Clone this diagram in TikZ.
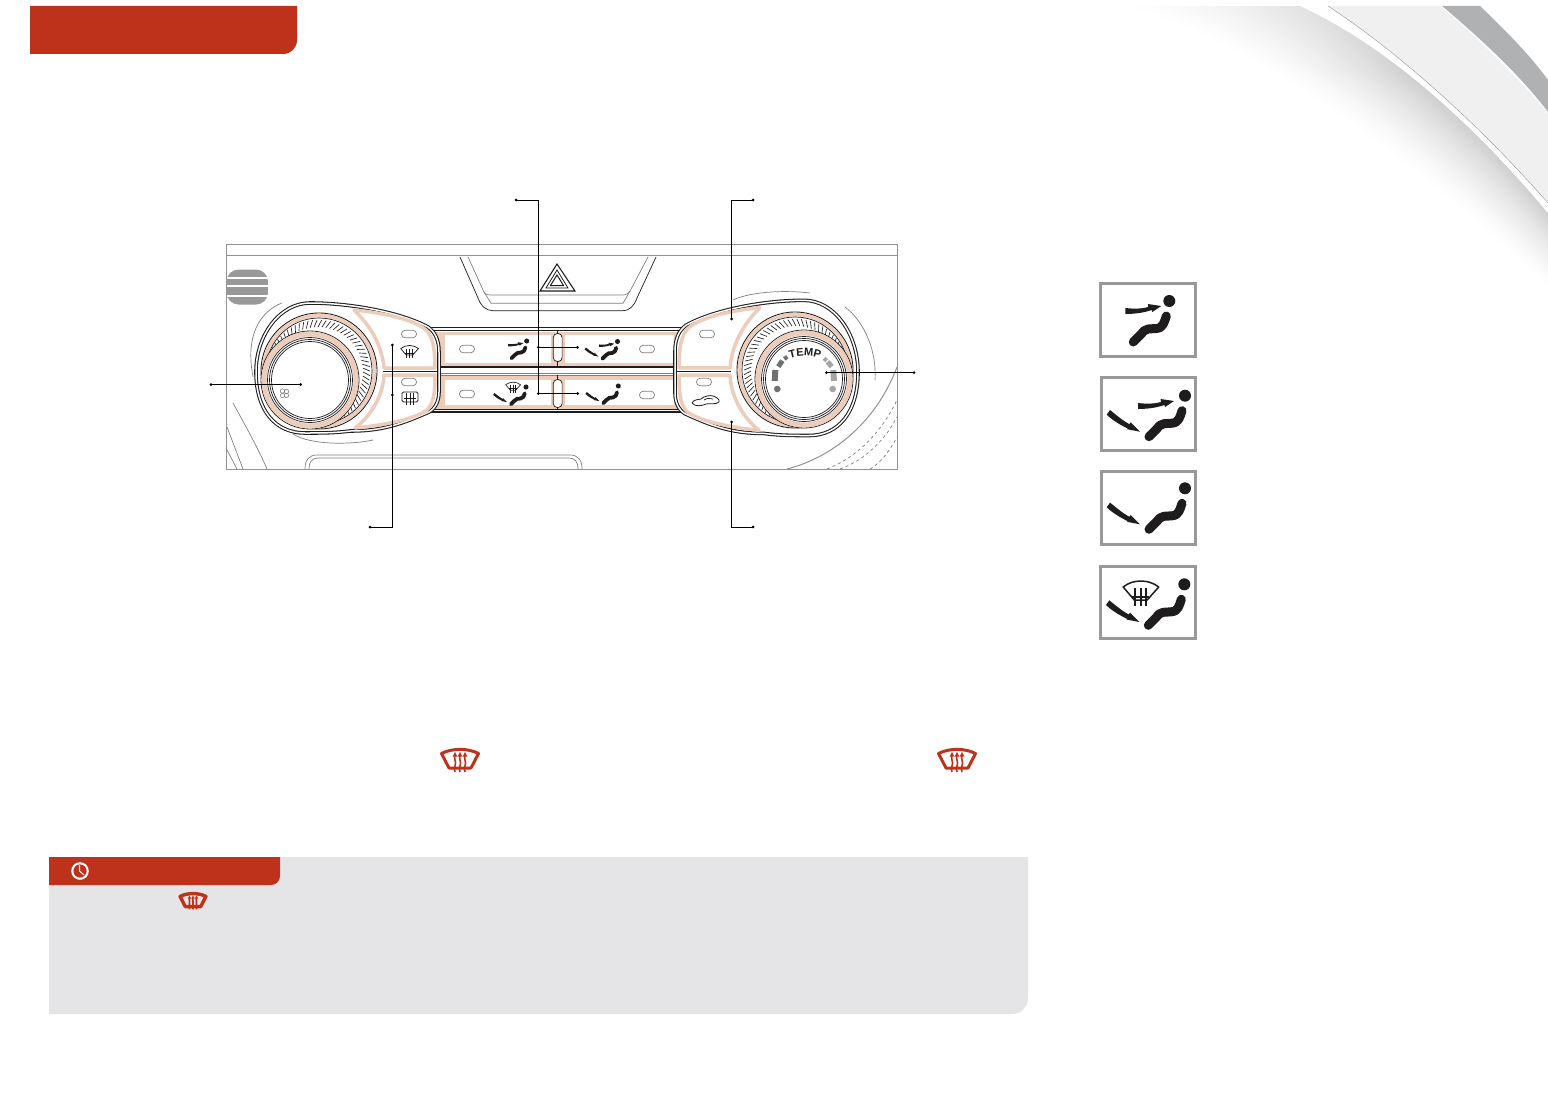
\documentclass[tikz,border=0pt]{standalone}
\usepackage{fontspec}
\setmainfont{Liberation Sans}
\usetikzlibrary{decorations.text}
\definecolor{kred}{RGB}{190,50,27}
\definecolor{beige}{RGB}{236,204,186}
\definecolor{callout}{RGB}{229,229,231}
\definecolor{frameg}{RGB}{128,129,131}
\definecolor{paneg}{RGB}{145,146,148}
\definecolor{boxg}{RGB}{153,153,153}
\definecolor{ink}{RGB}{30,28,28}
\definecolor{bandg}{RGB}{176,177,178}
\definecolor{gaugel}{RGB}{112,112,112}
\definecolor{gauger}{RGB}{165,165,165}
\tikzset{
  leader/.style={black,line width=0.9pt},
  dot/.style={circle,fill=black,inner sep=0pt,minimum size=3pt},
  thinline/.style={frameg,line width=0.7pt},
  pill/.style={draw=frameg,line width=0.7pt,fill=white,rounded corners=3.5pt},
  button/.style={draw=beige,line width=3.5pt,fill=white,line join=round},
  iconbox/.style={draw=boxg,line width=3pt,fill=white}
}
\newcommand{\seatman}[3]{%
 \begin{scope}[shift={(#1,#2)},scale=#3]
  \fill[ink] (0,0) circle[radius=6];
  \draw[ink,line width=#3*9pt,line cap=round,line join=round]
   (-3,15) .. controls (-5,21) and (-6,27) .. (-13,27.5) -- (-21,28)
   .. controls (-24,28.5) and (-26,30) .. (-28,33) -- (-36,41);
 \end{scope}}
\newcommand{\faceair}[3]{%
 \begin{scope}[shift={(#1,#2)},scale=#3]
  \fill[ink] (-44,7) .. controls (-35,8) and (-28,8) .. (-21,6) -- (-21.5,3) -- (-8,5) -- (-17,11) -- (-17.5,9)
   .. controls (-26,12) and (-36,13) .. (-44,13) -- cycle;
 \end{scope}}
\newcommand{\footair}[3]{%
 \begin{scope}[shift={(#1,#2)},scale=#3]
  \fill[ink] (-75,14.3) .. controls (-68,20) and (-62,25) .. (-55.7,28.5) -- (-54.3,26.7) -- (-45,36) -- (-58,33.5) -- (-57,33)
   .. controls (-65,29) and (-72,25) .. (-78.3,19) -- cycle;
 \end{scope}}
\newcommand{\blackwsh}[3]{%
 \begin{scope}[shift={(#1,#2)},scale=#3]
  \draw[ink,line width=#3*1.5pt,line join=round] (-17.5,-3) .. controls (-8,-11) and (8,-11) .. (18,-3) -- (6.5,10) -- (-6.5,10) -- cycle;
  \foreach \dx in {-5.6,0,5.6}{\draw[ink,line width=#3*2.2pt] (\dx,-2) -- (\dx,15.5);}
  \draw[ink,line width=#3*2pt] (-8.5,6.5) -- (8.5,6.5);
 \end{scope}}
\newcommand{\redwsh}[5]{%
 \begin{scope}[shift={(#1,#2)},scale=#3]
  \draw[kred,line width=#4,line join=round] (-18.5,-6.5) .. controls (-8,-12) and (8,-12) .. (18.5,-6.5) -- (11,8) -- (-11,8) -- cycle;
  \foreach \dx in {-5,0,5}{
   \draw[kred,line width=#5] (\dx,12) .. controls (\dx-2,8) and (\dx+2,4) .. (\dx,0) .. controls (\dx-2,-2) and (\dx+1,-3) .. (\dx,-5);
   \fill[kred] (\dx-2.4,-3.5) -- (\dx,-8) -- (\dx+2.4,-3.5) -- cycle;}
 \end{scope}}
\newcommand{\podbody}{%
  \draw[white,fill=white] (256,372) .. controls (256,335) and (280,303) .. (310,303)
    .. controls (350,303) and (400,312) .. (428,327) .. controls (435,332) and (439,340) .. (439,352)
    -- (439,392) .. controls (439,400) and (436,408) .. (429,412) .. controls (400,425) and (380,431) .. (350,431)
    .. controls (335,433) and (320,433) .. (305,433) .. controls (275,433) and (256,410) .. (256,372) -- cycle;
  \draw[ink,line width=1.05pt,double=white,double distance=1.5pt] (256,372) .. controls (256,335) and (280,303) .. (310,303)
    .. controls (350,303) and (400,312) .. (428,327) .. controls (435,332) and (439,340) .. (439,352)
    -- (439,392) .. controls (439,400) and (436,408) .. (429,412) .. controls (400,425) and (380,431) .. (350,431)
    .. controls (335,433) and (320,433) .. (305,433) .. controls (275,433) and (256,410) .. (256,372) -- cycle;
  \draw[button] (354,310) .. controls (385,313) and (415,320) .. (426,330) .. controls (432,336) and (435,346) .. (435,368)
    -- (384,368) .. controls (382,345) and (370,325) .. (354,310) -- cycle;
  \draw[button] (355,428) .. controls (385,425) and (415,419) .. (427,410) .. controls (433,404) and (435,395) .. (435,375)
    -- (384,375) .. controls (383,395) and (372,415) .. (355,428) -- cycle;
  \draw[ink,line width=1pt] (383,371.5) -- (438,371.5);
}
\newcommand{\knob}{%
  \draw[ink,line width=0.9pt,fill=white] (319,371) circle[radius=58];
  \draw[beige,line width=3.5pt] (319,371) circle[radius=55.5];
  \draw[ink,line width=0.7pt] (319,371) circle[radius=53];
  \begin{scope}[shift={(318,372)}]
   \foreach \a in {0,5,...,355}{\draw[ink,line width=0.65pt] (\a:45) -- (\a+4:52);}
  \end{scope}
  \draw[ink,line width=0.8pt,fill=white] (310,380) circle[radius=49];
  \draw[beige,line width=5pt] (310,380) circle[radius=46];
  \draw[ink,line width=0.7pt,fill=white] (310,380) circle[radius=42.5];
  \draw[ink,line width=0.7pt] (310,380) circle[radius=40.5];
  \draw[ink,line width=0.7pt] (310,380) circle[radius=38.5];
}
\begin{document}
\begin{tikzpicture}[x=1pt,y=-1pt]
\useasboundingbox (0,0) rectangle (1548,1116);
\fill[white] (0,0) rectangle (1548,1116);
% ---- page corner swoosh
\foreach \i in {0,...,44}{
  \pgfmathsetmacro\t{\i/44}
  \pgfmathsetmacro\p{19*pow(\t,1.5)}
  \pgfmathsetmacro\xa{1120+180*\t}
  \pgfmathsetmacro\ca{1250+135*\t}
  \pgfmathsetmacro\cb{40+5*\t}
  \pgfmathsetmacro\cc{1420+50*\t}
  \pgfmathsetmacro\cd{170-50*\t}
  \pgfmathsetmacro\ye{290-77*\t}
  \fill[black!\p!white] (\xa,6) .. controls (\ca,\cb) and (\cc,\cd) .. (1548,\ye) -- (1548,6) -- cycle;
}
\foreach \y in {6,9,...,72}{
  \pgfmathsetmacro\o{0.4*(1-(\y-6)/69)}
  \fill[white,opacity=\o] (1100,\y) rectangle (1548,\y+3);
}
\fill[white] (1300,6) .. controls (1385,45) and (1470,120) .. (1548,213) -- (1548,4) -- (1300,4) -- cycle;
\fill[white] (1100,0) rectangle (1548,6);
\fill[black!6] (1328,6) .. controls (1395,50) and (1475,120) .. (1548,203) -- (1548,113) .. controls (1515,75) and (1475,35) .. (1440,6) -- cycle;
\draw[frameg,line width=0.3pt] (1328,6) .. controls (1395,50) and (1475,120) .. (1548,203);
\fill[bandg] (1442,6) -- (1480,6) .. controls (1505,30) and (1530,55) .. (1548,80) -- (1548,112) .. controls (1520,75) and (1480,38) .. (1442,6) -- cycle;
% ---- header tab
\fill[kred] (30,6) -- (297,6) -- (297,40) .. controls (297,48) and (291,54) .. (283,54) -- (30,54) -- cycle;
% ---- callout
\fill[callout] (49,857) -- (1028,857) -- (1028,998) .. controls (1028,1007) and (1021,1014) .. (1012,1014) -- (49,1014) -- cycle;
\fill[kred] (49,857) -- (280,857) -- (280,876) .. controls (280,881) and (276,885) .. (271,885) -- (49,885) -- cycle;
\fill[white] (80,871) circle[radius=8.8];
\fill[kred] (80,871) circle[radius=6.6];
\draw[white,line width=1pt,line cap=round] (79.5,865.5) -- (79.5,871) -- (84,875);
\redwsh{193}{901}{0.7}{3.4pt}{1.6pt}
\redwsh{460}{760}{1}{3pt}{1.6pt}
\redwsh{957}{760}{1}{3pt}{1.6pt}
% ---- panel frame
\draw[paneg,line width=1pt] (226,244) rectangle (897,469);
\draw[paneg,line width=0.8pt] (226,255) -- (897,255);
% vent grille
\begin{scope}
 \clip[rounded corners=12pt] (226.5,269.5) rectangle (268,304.5);
 \fill[boxg] (226,269) rectangle (268,277);
 \fill[boxg] (226,279) rectangle (268,285);
 \fill[boxg] (226,287) rectangle (268,294.5);
 \fill[boxg] (226,297) rectangle (268,305);
\end{scope}
% hazard recess
\draw[ink,line width=0.7pt] (460,257) -- (478,298) .. controls (481,306) and (486,310.7) .. (493,310.7) -- (622,310.7) .. controls (630,310.7) and (634,306) .. (637,298) -- (656,257);
\draw[thinline] (468,257) -- (484,292) .. controls (486,295) and (488,295) .. (491,295) -- (622,295) .. controls (626,295) and (628,294) .. (630,291) -- (648,257);
\draw[thinline] (484,292) -- (491,303.3) -- (623,303.3) -- (630,291);
\draw[ink,line width=1.1pt,line join=miter] (540,291) -- (557,264) -- (575,291) -- cycle;
\draw[ink,line width=0.8pt] (546,288) -- (557,270) -- (568,288) -- cycle;
\draw[ink,line width=1pt] (550.5,285.5) -- (557,275) -- (563.5,285.5) -- cycle;
% thin body lines
\draw[thinline] (281.7,303) .. controls (260,312) and (245,335) .. (253,377);
\draw[thinline] (293,434) .. controls (310,445) and (350,445) .. (373,440);
\draw[thinline] (233,403) .. controls (245,425) and (258,448) .. (267,469);
\draw[thinline] (227,427) -- (243,469);
\draw[thinline] (227,450) -- (237,469);
\draw[thinline] (733,300) .. controls (745,294) and (775,289) .. (810,293);
\draw[thinline] (845,307) .. controls (860,318) and (877,345) .. (875,380);
\draw[paneg,line width=1pt] (787,469) .. controls (830,458) and (875,425) .. (897,367);
\draw[thinline,dashed] (827,469) .. controls (855,458) and (880,435) .. (897,400);
\draw[thinline,dashed] (840,469) .. controls (865,460) and (885,440) .. (897,417);
\draw[thinline,dashed] (870,469) .. controls (882,462) and (890,450) .. (897,437);
% tray
\draw[thinline] (305,469) .. controls (305,460) and (309,455) .. (317,455) -- (570,455) .. controls (578,455) and (582,460) .. (582,469);
\draw[thinline] (309,469) .. controls (309,462) and (312,458) .. (318,458) -- (569,458) .. controls (575,458) and (578,462) .. (578,469);
% ---- centre bars
\fill[beige] (436,331.5) rectangle (680,366);
\fill[beige] (436,376) rectangle (680,409);
\fill[white] (445,335) rectangle (551,362.5);
\fill[white] (565,335) rectangle (674,362.5);
\fill[white] (445,379.5) rectangle (551,405);
\fill[white] (565,379.5) rectangle (674,405);
\draw[ink,line width=1.1pt] (428,327.5) -- (686,327.5);
\draw[ink,line width=0.8pt] (430,330) -- (684,330);
\draw[ink,line width=1.1pt] (439,367) -- (676,367);
\draw[frameg,line width=0.7pt] (439,373) -- (676,373);
\draw[frameg,line width=0.7pt] (439,375) -- (676,375);
\draw[ink,line width=0.8pt] (430,409.5) -- (684,409.5);
\draw[ink,line width=1.1pt] (429,412) -- (685,412);
\draw[ink,line width=0.7pt] (557.7,330) -- (557.7,367);
\draw[ink,line width=0.7pt] (557.7,375) -- (557.7,410);
\draw[ink,line width=0.7pt,fill=white,rounded corners=4pt] (553.3,333.5) rectangle (562.1,361.5);
\draw[ink,line width=0.7pt,fill=white,rounded corners=4pt] (553.3,379.5) rectangle (562.1,407.5);
% ---- pods and knobs
\podbody
\knob
\begin{scope}[shift={(1114,370)},xscale=-1,yscale=1.04,shift={(0,-370)}]
 \podbody
\end{scope}
\begin{scope}[shift={(1114,-1)},xscale=-1]
 \knob
\end{scope}
% pills
\foreach \px/\py in {409/334,409/382,467/349,467/394,647/349,647/395,707/334,704/382}{
  \draw[pill] (\px-7.5,\py-3.7) rectangle (\px+7.5,\py+3.7);
}
% fan symbol
\foreach \fx/\fy in {282.5/391,286.5/391.5,282.5/395.5,286.5/395.5}{
  \draw[frameg,line width=0.6pt] (\fx,\fy) circle[radius=2.2];
}
% temperature scale
\path[decorate,decoration={text along path,text align=center,text={|\fontsize{11}{11}\selectfont\bfseries\color{ink}|TEMP}}]
  (788,359) .. controls (798,355) and (812,355) .. (822,359.5);
\draw[gaugel,line width=6pt] (775.3,370) -- (774.7,381);
\draw[gaugel,line width=5pt] (778.3,366.7) -- (782.3,360.7);
\draw[gaugel,line width=4pt] (784.3,359) -- (787.3,356.7);
\draw[gauger,line width=6pt] (833.3,370) -- (834,381);
\draw[gauger,line width=5pt] (827.7,361.7) -- (831.7,366.7);
\draw[gauger,line width=4pt] (824,358.3) -- (826.7,360.7);
\fill[gaugel] (777.3,389) circle[radius=3.3];
\fill[gauger] (832.7,389) circle[radius=3.3];
% panel icons
\faceair{526.7}{341}{0.42}\seatman{526.7}{341}{0.42}
\footair{526}{387}{0.42}\seatman{526}{387}{0.42}\blackwsh{513}{386}{0.42}
\faceair{617.5}{341.5}{0.42}\footair{617.5}{341.5}{0.42}\seatman{617.5}{341.5}{0.42}
\footair{618.3}{386}{0.42}\seatman{618.3}{386}{0.42}
\blackwsh{409.5}{350}{0.5}
\draw[ink,line width=0.9pt,rounded corners=1.5pt] (402,392) rectangle (418,402);
\foreach \dx in {-3.5,0,3.5}{\draw[ink,line width=0.8pt] (410+\dx,393) -- (410+\dx,405);}
\draw[ink,line width=0.7pt] (404,398) -- (416,398);
\draw[ink,line width=0.8pt,line join=round] (692,403) .. controls (694,399) and (698,400) .. (701,399) .. controls (704,396) and (710,395) .. (713,396) .. controls (716,397) and (720,399) .. (719,402) .. controls (716,405) and (710,403) .. (706,404) .. controls (702,406) and (695,407) .. (692,403) -- cycle;
\draw[ink,line width=0.7pt] (704,400) .. controls (707,398) and (710,398) .. (713,399);
% ---- mode icon boxes
\draw[iconbox] (1100.5,283.5) rectangle (1195,356);
\faceair{1169.3}{301}{1}\seatman{1169.3}{301}{1}
\draw[iconbox] (1101.5,377.5) rectangle (1195,450);
\faceair{1182}{396}{1}\footair{1185}{395.7}{1}\seatman{1185}{395.7}{1}
\draw[iconbox] (1101.5,471.5) rectangle (1195,544.5);
\footair{1185}{488.3}{1}\seatman{1185}{488.3}{1}
\draw[iconbox] (1100.5,566) rectangle (1195,638.5);
\footair{1184.3}{586}{1}\seatman{1184.3}{584.3}{1}\blackwsh{1140.7}{590}{1}
% ---- leaders
\node[dot] (fanA) at (211,384.5) {};
\node[dot] (fanB) at (300.5,384.5) {};
\draw[leader] (fanA.center) -- (fanB.center);
\node[dot] (ventT) at (516,200) {};
\node[dot] (ventA) at (538.3,347.3) {};
\node[dot] (ventB) at (538.3,393.5) {};
\node[dot] (ventC) at (577.5,347.3) {};
\node[dot] (ventD) at (577.5,393.5) {};
\draw[leader] (ventT.center) -| (ventB.center);
\draw[leader] (ventA.center) -- (ventC.center);
\draw[leader] (ventB.center) -- (ventD.center);
\node[dot] (autoT) at (753,200) {};
\node[dot] (autoB) at (731.7,319) {};
\draw[leader] (autoT.center) -| (autoB.center);
\node[dot] (tempA) at (826.5,372.7) {};
\node[dot] (tempB) at (914,372.7) {};
\draw[leader] (tempA.center) -- (tempB.center);
\node[dot] (recA) at (731.7,422) {};
\node[dot] (recB) at (753,527) {};
\draw[leader] (recA.center) |- (recB.center);
\node[dot] (defT) at (392.4,345) {};
\node[dot] (defM) at (392.4,395) {};
\node[dot] (defB) at (370,527) {};
\draw[leader] (defB.center) -| (defT.center);
\end{tikzpicture}
\end{document}
